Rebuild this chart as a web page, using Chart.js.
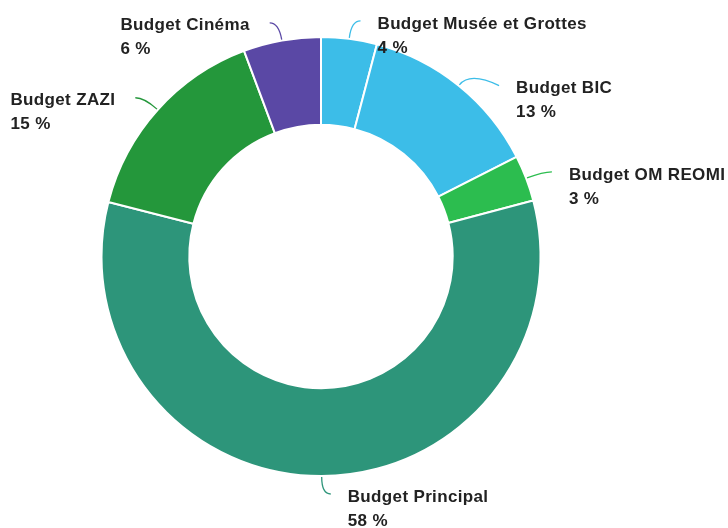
<!DOCTYPE html>
<html>
<head>
<meta charset="utf-8">
<script src="https://cdn.jsdelivr.net/npm/chart.js@4"></script>
<style>
  html, body { margin: 0; padding: 0; background: #fff; }
  #wrap { width: 728px; height: 528px; }
</style>
</head>
<body>
<div id="wrap"><canvas id="budgetChart" width="728" height="528"></canvas></div>
<script>
// budget shares
const budgetNames = ['Budget Musée et Grottes', 'Budget BIC', 'Budget OM REOMI', 'Budget Principal', 'Budget ZAZI', 'Budget Cinéma'];
const budgetShares = [4.1, 13.4, 3.4, 58.1, 15.3, 5.7];
const sliceColors = ['#3cbde8', '#3cbde8', '#2cbd4f', '#2d957a', '#24973b', '#5a48a5'];

// small nudges for labels that the original layout pushed around
const labelNudgeX = [0, 20, 0, 0, 0, 0];
const labelNudgeY = [0, 14, 0, 0, 0, 0];

const labelFont = 'bold 17px "Liberation Sans", Arial, sans-serif';

// Draw curved leader lines and two-line labels
const leaderLabels = {
    id: 'leaderLabels',
    afterDatasetsDraw(chart) {
        const ctx = chart.ctx;
        const meta = chart.getDatasetMeta(0);
        const data = chart.data.datasets[0].data;
        const total = data.reduce((a, b) => a + b, 0);

        ctx.save();
        meta.data.forEach((arc, i) => {
            const p = arc.getProps(['x', 'y', 'startAngle', 'endAngle', 'outerRadius'], true);
            const mid = (p.startAngle + p.endAngle) / 2;
            const cos = Math.cos(mid), sin = Math.sin(mid);
            const side = cos >= 0 ? 1 : -1;

            const x0 = p.x + cos * (p.outerRadius + 1);
            const y0 = p.y + sin * (p.outerRadius + 1);
            const cx = p.x + cos * (p.outerRadius + 18);
            const cy = p.y + sin * (p.outerRadius + 18);
            const x1 = cx + side * 9 + labelNudgeX[i];
            const y1 = cy + labelNudgeY[i];

            ctx.strokeStyle = sliceColors[i];
            ctx.lineWidth = 1.3;
            ctx.beginPath();
            ctx.moveTo(x0, y0);
            ctx.quadraticCurveTo(cx, cy, x1, y1);
            ctx.stroke();

            // text block is left aligned; on the left side it ends near the leader
            ctx.font = labelFont;
            ctx.letterSpacing = '0.35px';
            ctx.fillStyle = '#222';
            ctx.textBaseline = 'middle';
            ctx.textAlign = 'left';
            const name = chart.data.labels[i];
            const pct = Math.round(data[i] / total * 100) + ' %';
            const w = Math.max(ctx.measureText(name).width, ctx.measureText(pct).width);
            const tx = side > 0 ? x1 + 17 : x1 - 20 - w;
            ctx.fillText(name, tx, y1 + 3);
            ctx.fillText(pct, tx, y1 + 27);
        });
        ctx.restore();
    }
};

let ctx = document.getElementById('budgetChart').getContext('2d');

window.budgetChart = new Chart(ctx, {
    type: 'doughnut',
    data: {
        labels: budgetNames,
        datasets: [{
            data: budgetShares,
            backgroundColor: sliceColors,
            borderColor: '#ffffff',
            borderWidth: 2
        }]
    },
    options: {
        responsive: false,
        animation: false,
        cutout: '60%',
        layout: {
            padding: { left: 100, right: 186, top: 36, bottom: 51 }
        },
        plugins: {
            legend: { display: false },
            tooltip: { enabled: false }
        }
    },
    plugins: [leaderLabels]
});
</script>
</body>
</html>
